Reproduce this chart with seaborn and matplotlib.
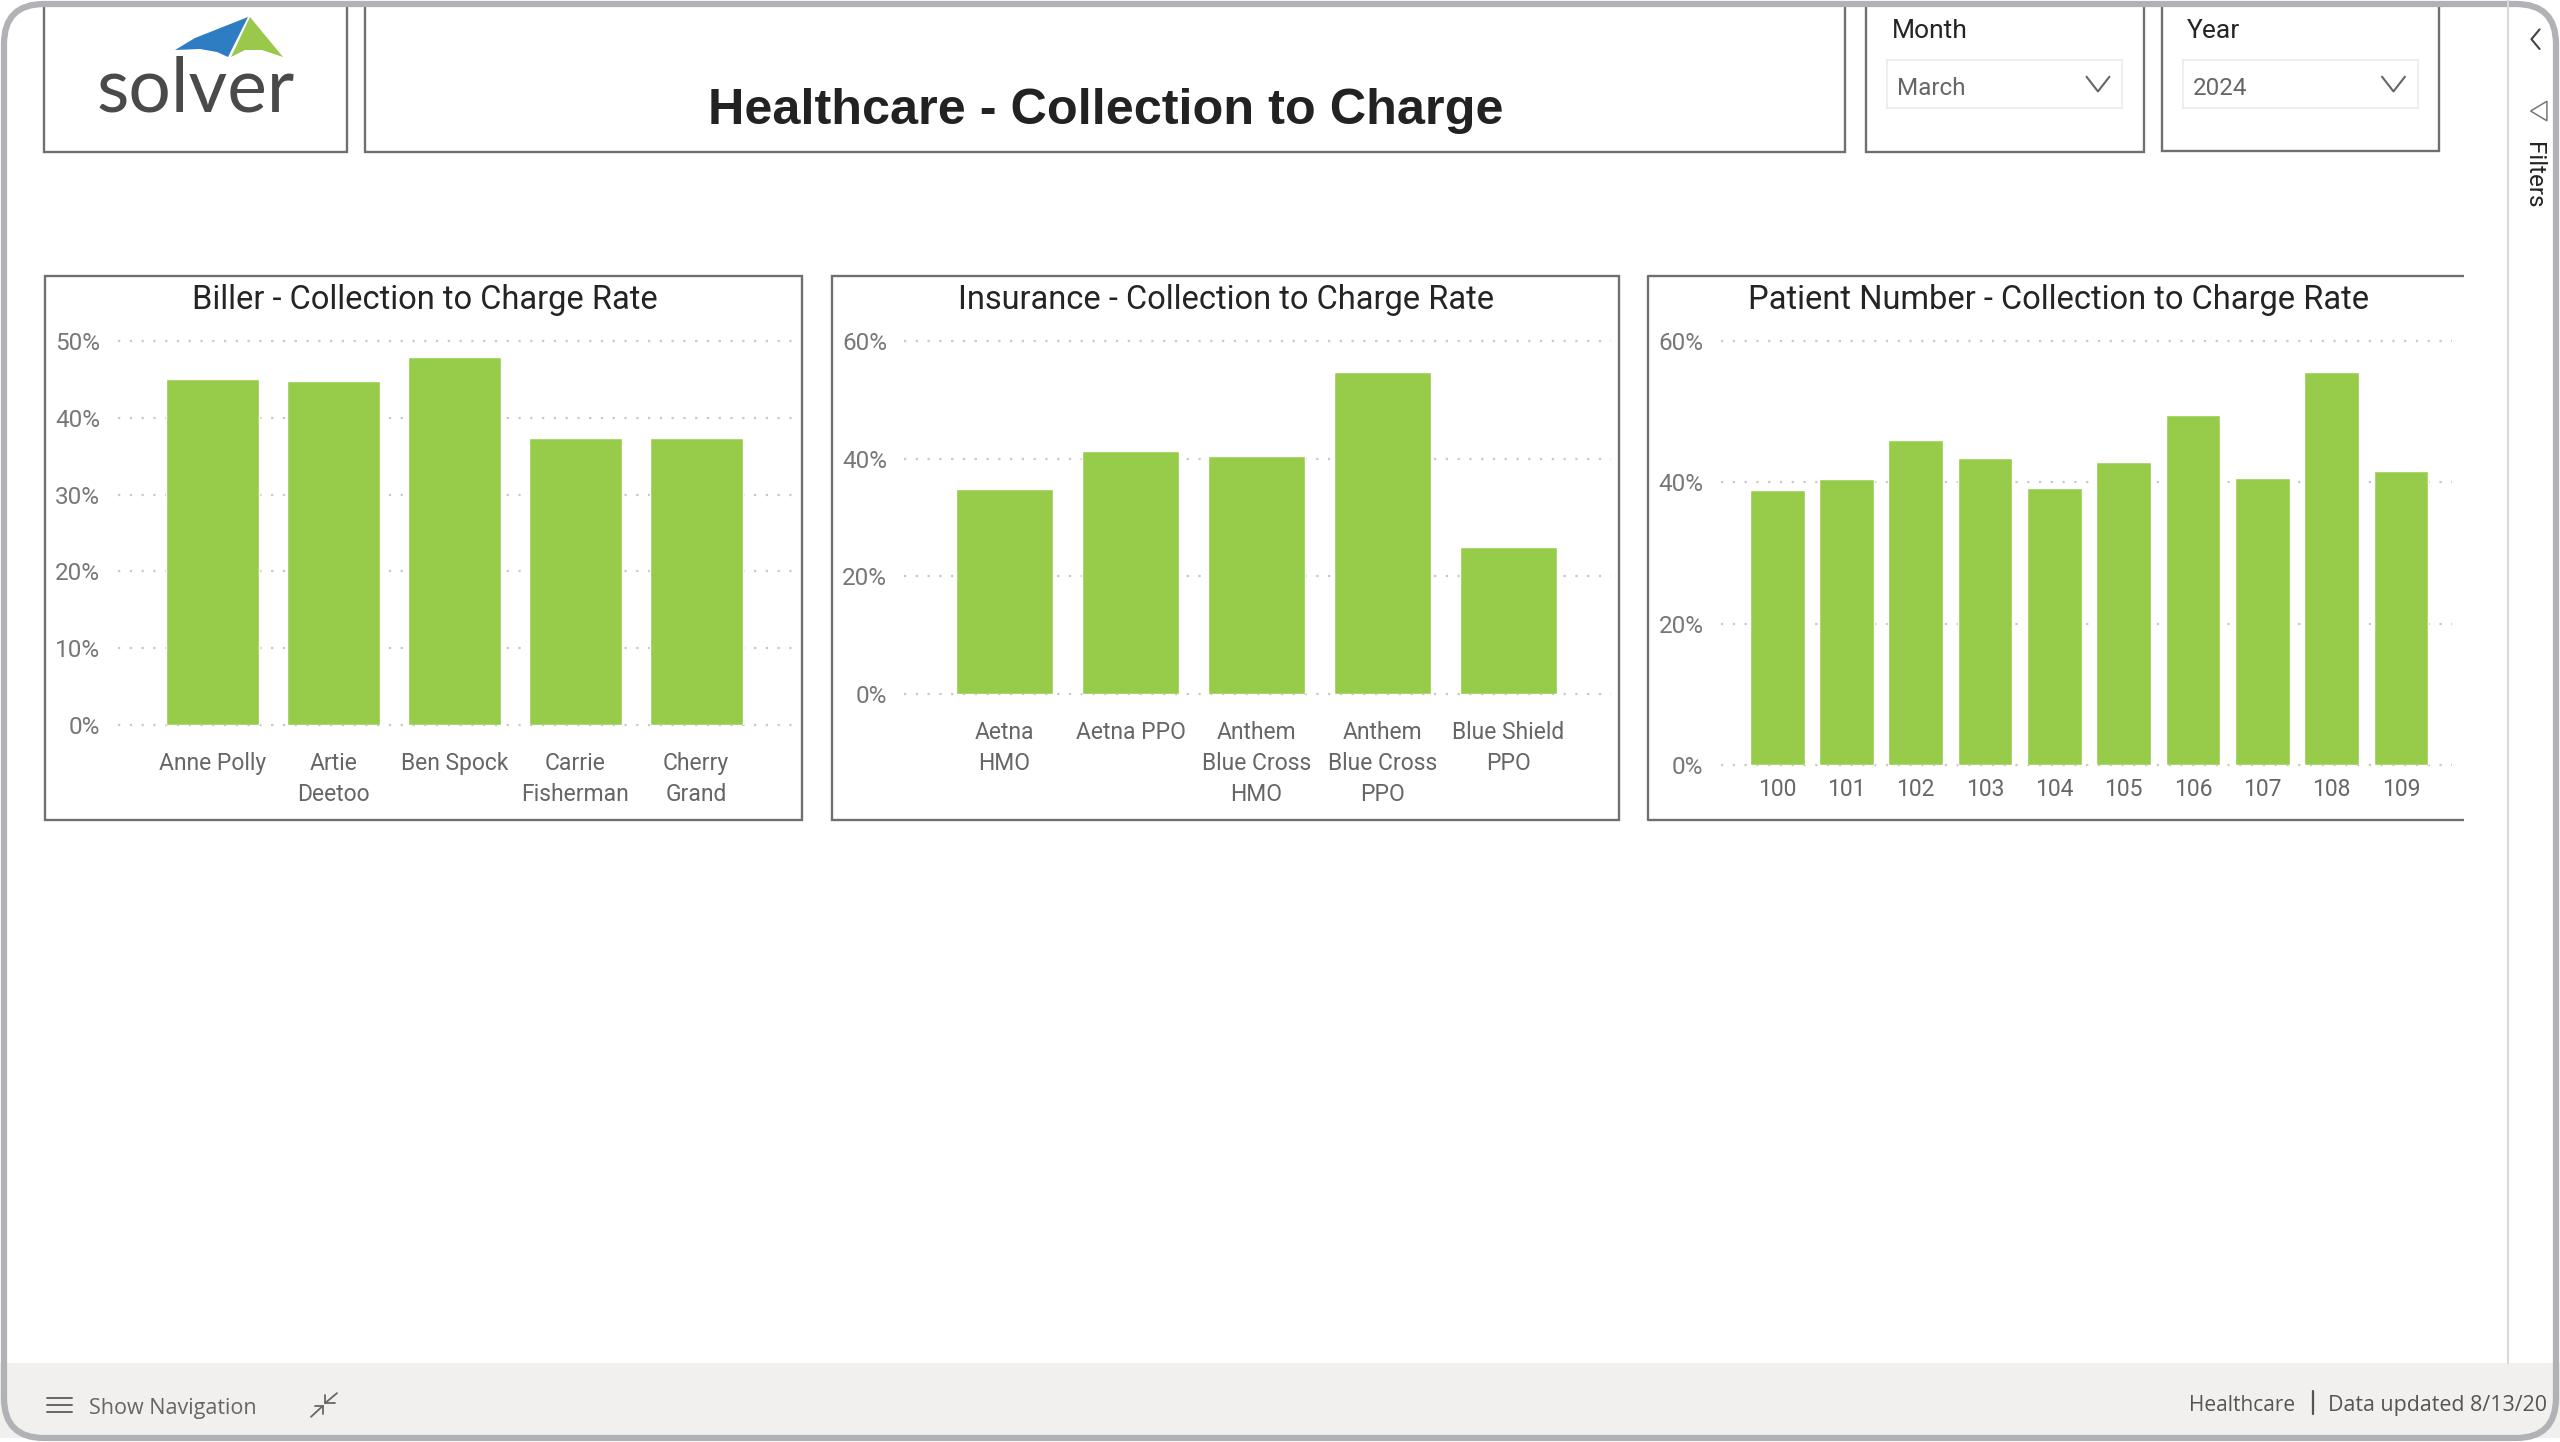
import matplotlib
matplotlib.use('Agg')
import matplotlib.pyplot as plt
from matplotlib.patches import FancyBboxPatch, Rectangle, Polygon
import seaborn as sns

# data
biller_names = ['Anne Polly', 'Artie\nDeetoo', 'Ben Spock', 'Carrie\nFisherman', 'Cherry\nGrand']
biller_rate = [45.1, 44.8, 47.9, 37.4, 37.4]
biller_ticks = [0, 10, 20, 30, 40, 50]

insurance_names = ['Aetna\nHMO', 'Aetna PPO', 'Anthem\nBlue Cross\nHMO', 'Anthem\nBlue Cross\nPPO', 'Blue Shield\nPPO']
insurance_rate = [34.9, 41.3, 40.4, 54.8, 24.9]
insurance_ticks = [0, 20, 40, 60]

patient_names = ['100', '101', '102', '103', '104', '105', '106', '107', '108', '109']
patient_rate = [38.9, 40.5, 46.0, 43.5, 39.2, 42.9, 49.5, 40.7, 55.6, 41.6]
patient_ticks = [0, 20, 40, 60]

W, H = 2560, 1442
S = 2560 / 1568  # the layout below was measured on the 1568 wide view
GREEN = '#97cc4a'
FRAME = '#6f6f6f'
BODY = ['Roboto', 'DejaVu Sans']
UI = ['Open Sans', 'DejaVu Sans']

sns.set_theme(style='white')
plt.rcParams['font.family'] = BODY

fig = plt.figure(figsize=(W / 100, H / 100), dpi=100, facecolor='white')

# page furniture drawn in pixel coordinates
bg = fig.add_axes([0, 0, 1, 1], zorder=0)
bg.set_xlim(0, W)
bg.set_ylim(H, 0)
bg.axis('off')


def box(x0, y0, x1, y1, **kw):
    kw.setdefault('facecolor', 'none')
    kw.setdefault('edgecolor', FRAME)
    kw.setdefault('linewidth', 1.7)
    bg.add_patch(Rectangle((x0 * S, y0 * S), (x1 - x0) * S, (y1 - y0) * S, **kw))


def seg(xs, ys, color='#666666', lw=1.5):
    bg.plot([x * S for x in xs], [y * S for y in ys], color=color, lw=lw, solid_capstyle='round')


# bottom bar and the line of the filter pane
box(0, 835, 1568, 883, facecolor='#f1f0ee', edgecolor='none')
seg([1536, 1536], [0, 835], color='#d9d9d9', lw=1.5)

# header boxes
box(27, -5, 212.5, 93)
box(223.5, -5, 1130, 93)
box(1143, -5, 1313, 93)
box(1324, -5, 1494, 92.5)

# logo
bg.add_patch(Polygon([(175, 50), (195, 38), (248, 17), (228, 57), (217, 52), (200, 49)], facecolor='#2e7cc1', edgecolor='none'))
bg.add_patch(Polygon([(250, 17), (283, 57), (262, 50), (245, 50), (231, 57)], facecolor='#99c84a', edgecolor='none'))
bg.text(196, 112, 'solver', ha='center', va='baseline', fontsize=54, color='#4a4a4a', family=['Lato', 'DejaVu Sans'])

bg.text(677 * S, 68 * S, 'Healthcare - Collection to Charge', ha='center', va='center', fontsize=36.3,
        fontweight='bold', color='#222222', family=['Liberation Sans', 'DejaVu Sans'])

# slicers
for x0, label, value in [(1143, 'Month', 'March'), (1324, 'Year', '2024')]:
    bg.text((x0 + 15.5) * S, 19 * S, label, ha='left', va='center', fontsize=19, color='#252423')
    box(x0 + 13, 37, x0 + 157, 66, edgecolor='#eeeeee', linewidth=1.4)
    bg.text((x0 + 19) * S, 54 * S, value, ha='left', va='center', fontsize=17.5, color='#666666')
    seg([x0 + 135, x0 + 142, x0 + 149], [47, 56, 47], color='#666666', lw=1.5)

# filter pane
seg([1555.5, 1550.5, 1555.5], [18, 24, 30], color='#444444', lw=1.5)
bg.add_patch(Polygon([(1560 * S, 62 * S), (1550 * S, 68 * S), (1560 * S, 74 * S)], facecolor='none', edgecolor='#777777', linewidth=1.1))
bg.text(1552 * S, 107.5 * S, 'Filters', rotation=270, ha='center', va='center', fontsize=17.5, color='#252423')

# bottom bar contents
for y in [856, 860.5, 865]:
    seg([29, 44], [y, y], color='#666666', lw=1.4)
bg.text(54.5 * S, 862.5 * S, 'Show Navigation', ha='left', va='center', fontsize=15.5, color='#666666', family=UI)
# compress icon, two arrows pointing at each other
seg([190.5, 197.8], [867.8, 861], color='#666666', lw=1.3)
seg([193, 197.8, 197.8], [861, 861, 866], color='#666666', lw=1.3)
seg([206.4, 199], [853.3, 859.5], color='#666666', lw=1.3)
seg([205, 199, 199], [859.5, 859.5, 854.5], color='#666666', lw=1.3)
bg.text(1406 * S, 861 * S, 'Healthcare', ha='right', va='center', fontsize=15, color='#555555', family=UI)
seg([1416.5, 1416.5], [852, 866], color='#555555', lw=1.6)
bg.text(1560 * S, 861 * S, 'Data updated 8/13/20', ha='right', va='center', fontsize=15.4, color='#555555', family=UI)

# window frame with rounded corners, white outside
for x0, y0, x1, y1 in [(0, 0, 1568, 1.5), (0, 881, 1568, 883)]:
    box(x0, y0, x1, y1, facecolor='white', edgecolor='none')
bg.add_patch(FancyBboxPatch((4, 4), W - 8, H - 8, boxstyle='round,pad=0,rounding_size=40',
                            facecolor='none', edgecolor='#b1b2b6', linewidth=4.5))

# chart panels: frame, plot area (x0, x1, top, bottom), bar pitch and first bar centre, tick pad
panels = [
    ('Biller - Collection to Charge Rate', biller_names, biller_rate, biller_ticks,
     (27.5, 491, 169, 502), (72, 486, 209.1, 443.8), 74, 130.4, 20, 260),
    ('Insurance - Collection to Charge Rate', insurance_names, insurance_rate, insurance_ticks,
     (509.5, 991.5, 169, 502), (554, 987, 209.1, 424.8), 77.1, 615.3, 20, 751),
    ('Patient Number - Collection to Charge Rate', patient_names, patient_rate, patient_ticks,
     (1009.5, 1509, 169, 502), (1054, 1502, 209.1, 468.3), 42.45, 1088.5, 9.5, 1261),
]

for i, (title, names, rate, ticks, frame, area, pitch, first, pad, title_x) in enumerate(panels):
    fx0, fx1, fy0, fy1 = frame
    if i < 2:
        box(fx0, fy0, fx1, fy1)
    else:
        bg.plot([fx1 * S, fx0 * S, fx0 * S, fx1 * S], [fy0 * S, fy0 * S, fy1 * S, fy1 * S],
                color=FRAME, lw=1.7, solid_capstyle='butt')
    bg.text(title_x * S, 183.5 * S, title, ha='center', va='center', fontsize=23.5, color='#252423')

    x0, x1, top, bottom = area
    ax = fig.add_axes([x0 * S / W, 1 - bottom * S / H, (x1 - x0) * S / W, (bottom - top) * S / H], zorder=2)
    ax.patch.set_alpha(0)
    sns.barplot(x=names, y=rate, color=GREEN, saturation=1, width=(0.77 if i < 2 else 0.79), ax=ax, zorder=3)
    ax.set_xlim((x0 - first) / pitch, (x1 - first) / pitch)
    ax.set_ylim(0, max(ticks))
    ax.set_yticks(ticks)
    ax.set_yticklabels([f'{t}%' for t in ticks])
    ax.grid(axis='y', color='#c8c8c8', linewidth=1.6, linestyle=(0, (1, 4.3)))
    ax.grid(axis='x', visible=False)
    ax.set_axisbelow(True)
    sns.despine(ax=ax, left=True, bottom=True)
    ax.tick_params(axis='x', length=0, pad=pad, labelsize=16.5, labelcolor='#666666')
    ax.tick_params(axis='y', length=0, pad=12.5, labelsize=17.5, labelcolor='#777777')
    for lab in ax.get_xticklabels():
        lab.set_linespacing(1.44)
    for line in ax.get_ygridlines():
        line.set_clip_on(False)

fig.savefig('out.png', dpi=100)
